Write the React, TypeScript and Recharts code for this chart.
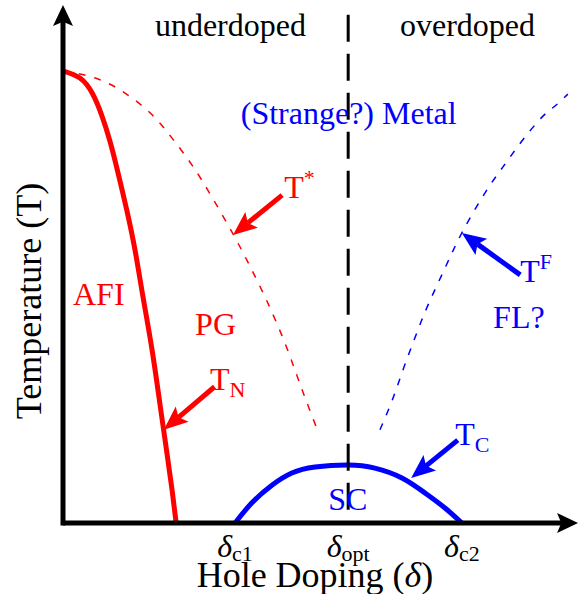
// Schematic cuprate phase diagram: temperature vs hole doping.

import { ComposedChart, Line, ReferenceDot, ReferenceLine, XAxis, YAxis } from "recharts";

const FONT = "'Liberation Serif', 'Times New Roman', serif";
const RED = "#ff0000";
const BLUE = "#0000ff";

// doping (0..100 arbitrary) and temperature (0..100 arbitrary)
const neelD = [0, 3.3, 5.7, 7.6, 9.2, 10.7, 12.5, 14.1, 15.6, 17.4, 18.9, 20.3, 21.3, 22.1];
const neelT = [87.3, 85.9, 83.0, 78.6, 73.6, 67.8, 60.2, 52.5, 43.8, 33.4, 23.2, 13.5, 6.4, 0];

const pgD = [0, 6.3, 12.1, 17.4, 21.3, 25.2, 29.1, 33.2, 36.5, 39.8, 43.4, 46.3, 49.4];
const pgT = [87.3, 85.9, 83.0, 78.8, 74.3, 69.1, 62.9, 55.8, 49.6, 42.9, 34.6, 26.8, 18.7];

const flD = [61.9, 64.3, 66.6, 69.1, 71.3, 74.6, 77.9, 82.4, 85.9, 89.6, 93.6, 96.1, 98.6];
const flT = [18.0, 23.7, 30.1, 36.7, 42.1, 49.2, 56.0, 63.7, 68.7, 73.7, 78.4, 80.5, 82.8];

const scD = [33.6, 36.9, 40.8, 44.7, 49.2, 55.7, 60.9, 66.2, 70.7, 74.6, 77.9];
const scT = [0, 3.9, 7.3, 9.65, 10.8, 11.2, 10.6, 8.7, 5.8, 2.9, 0];

const dopingTicks = [33.6, 55.7, 77.9];
const tickSubs = ["c1", "opt", "c2"];
const optimal = 55.7;

const zip = (d: number[], t: number[]) => d.map((x, i) => ({ d: x, t: t[i] }));

function arrow(color: string, width: number, head: number, half: number) {
  return (p: any) => {
    const { x1, y1, x2, y2 } = p;
    const len = Math.hypot(x2 - x1, y2 - y1) || 1;
    const ux = (x2 - x1) / len;
    const uy = (y2 - y1) / len;
    const bx = x2 - ux * head;
    const by = y2 - uy * head;
    const mx = x2 - ux * head * 0.8;
    const my = y2 - uy * head * 0.8;
    const pts = [
      [x2, y2],
      [bx - uy * half, by + ux * half],
      [mx, my],
      [bx + uy * half, by - ux * half],
    ]
      .map((q) => q.join(","))
      .join(" ");
    return (
      <g>
        <line x1={x1} y1={y1} x2={mx} y2={my} stroke={color} strokeWidth={width} strokeLinecap="butt" />
        <polygon points={pts} fill={color} />
      </g>
    );
  };
}

function note(content: React.ReactNode, color: string, anchor: string = "start", size = 32) {
  return (p: any) => (
    <text x={p.cx} y={p.cy} fill={color} fontFamily={FONT} fontSize={size} textAnchor={anchor}>
      {content}
    </text>
  );
}

function DeltaTick(p: any) {
  const sub = tickSubs[dopingTicks.indexOf(p.payload.value)];
  return (
    <text x={p.x} y={p.y + 34} textAnchor="middle" fontFamily={FONT} fontSize={32} fill="#000">
      <tspan fontStyle="italic">δ</tspan>
      <tspan fontSize={22} dy={4}>{sub}</tspan>
    </text>
  );
}

export default function App() {
  return (
    <div style={{ position: "absolute", left: 0, top: 0, background: "#fff" }}>
      <ComposedChart width={579} height={594} margin={{ top: 5, right: 4, bottom: 0, left: 0 }}>
        <XAxis
          type="number"
          dataKey="d"
          domain={[0, 100]}
          ticks={dopingTicks}
          interval={0}
          height={71}
          axisLine={false}
          tickLine={false}
          tickSize={0}
          tickMargin={0}
          tick={<DeltaTick />}
          label={(p: any) => {
            const vb = p.viewBox;
            return (
              <text x={vb.x + 252} y={vb.y + 64} textAnchor="middle" fontFamily={FONT} fontSize={36} fill="#000">
                Hole Doping (<tspan fontStyle="italic">δ</tspan>)
              </text>
            );
          }}
        />
        <YAxis
          type="number"
          domain={[0, 100]}
          width={63}
          axisLine={false}
          tickLine={false}
          tick={false}
          label={(p: any) => {
            const vb = p.viewBox;
            const x = vb.x + 41;
            const y = vb.y + 296;
            return (
              <text x={x} y={y} transform={`rotate(-90 ${x} ${y})`} textAnchor="middle" fontFamily={FONT} fontSize={36} fill="#000">
                Temperature (T)
              </text>
            );
          }}
        />

        <Line data={zip(pgD, pgT)} dataKey="t" type="natural" stroke={RED} strokeWidth={1.5} strokeDasharray="7 9" dot={false} isAnimationActive={false} />
        <Line data={zip(flD, flT)} dataKey="t" type="natural" stroke={BLUE} strokeWidth={1.5} strokeDasharray="7 9" dot={false} isAnimationActive={false} />
        <Line data={zip(neelD, neelT)} dataKey="t" type="natural" stroke={RED} strokeWidth={5} dot={false} isAnimationActive={false} />
        <Line data={zip(scD, scT)} dataKey="t" type="natural" stroke={BLUE} strokeWidth={5} dot={false} isAnimationActive={false} />

        <ReferenceLine
          segment={[{ x: optimal, y: 98.1 }, { x: optimal, y: 0 }]}
          stroke="#000"
          strokeWidth={3}
          strokeDasharray="27 12"
          ifOverflow="visible"
        />

        {/* axes with arrowheads */}
        <ReferenceLine segment={[{ x: 0, y: 0 }, { x: 100.6, y: 0 }]} ifOverflow="visible" shape={arrow("#000", 5, 21, 10)} />
        <ReferenceLine segment={[{ x: 0, y: -0.5 }, { x: 0, y: 100 }]} ifOverflow="visible" shape={arrow("#000", 5, 21, 10)} />

        {/* label pointers */}
        <ReferenceLine segment={[{ x: 42.8, y: 63.3 }, { x: 33.2, y: 55.6 }]} ifOverflow="visible" shape={arrow(RED, 5, 24, 10)} />
        <ReferenceLine segment={[{ x: 29.6, y: 26.3 }, { x: 19.7, y: 18.0 }]} ifOverflow="visible" shape={arrow(RED, 5, 24, 10)} />
        <ReferenceLine segment={[{ x: 89.3, y: 47.9 }, { x: 77.9, y: 56.0 }]} ifOverflow="visible" shape={arrow(BLUE, 5, 24, 10)} />
        <ReferenceLine segment={[{ x: 77.1, y: 16.0 }, { x: 68.0, y: 8.7 }]} ifOverflow="visible" shape={arrow(BLUE, 5, 24, 10)} />

        {/* region and curve names */}
        <ReferenceDot x={32.7} y={94.0} r={0} ifOverflow="visible" shape={note("underdoped", "#000", "middle")} />
        <ReferenceDot x={79.0} y={94.0} r={0} ifOverflow="visible" shape={note("overdoped", "#000", "middle")} />
        <ReferenceDot x={55.8} y={77.0} r={0} ifOverflow="visible" shape={note("(Strange?) Metal", BLUE, "middle")} />
        <ReferenceDot
          x={43.2}
          y={62.7}
          r={0}
          ifOverflow="visible"
          shape={note(<>T<tspan fontSize={22} dy={-13}>*</tspan></>, RED)}
        />
        <ReferenceDot x={1.95} y={42.1} r={0} ifOverflow="visible" shape={note("AFI", RED)} />
        <ReferenceDot x={25.8} y={36.3} r={0} ifOverflow="visible" shape={note("PG", RED)} />
        <ReferenceDot
          x={28.7}
          y={25.7}
          r={0}
          ifOverflow="visible"
          shape={note(<>T<tspan fontSize={22} dy={7}>N</tspan></>, RED)}
        />
        <ReferenceDot
          x={89.3}
          y={46.5}
          r={0}
          ifOverflow="visible"
          shape={note(<>T<tspan fontSize={22} dy={-13}>F</tspan></>, BLUE)}
        />
        <ReferenceDot x={84.0} y={37.6} r={0} ifOverflow="visible" shape={note("FL?", BLUE)} />
        <ReferenceDot
          x={76.6}
          y={15.1}
          r={0}
          ifOverflow="visible"
          shape={note(<>T<tspan fontSize={22} dy={7}>C</tspan></>, BLUE)}
        />
        <ReferenceDot x={51.8} y={2.5} r={0} ifOverflow="visible" shape={note("SC", BLUE)} />
      </ComposedChart>
    </div>
  );
}
